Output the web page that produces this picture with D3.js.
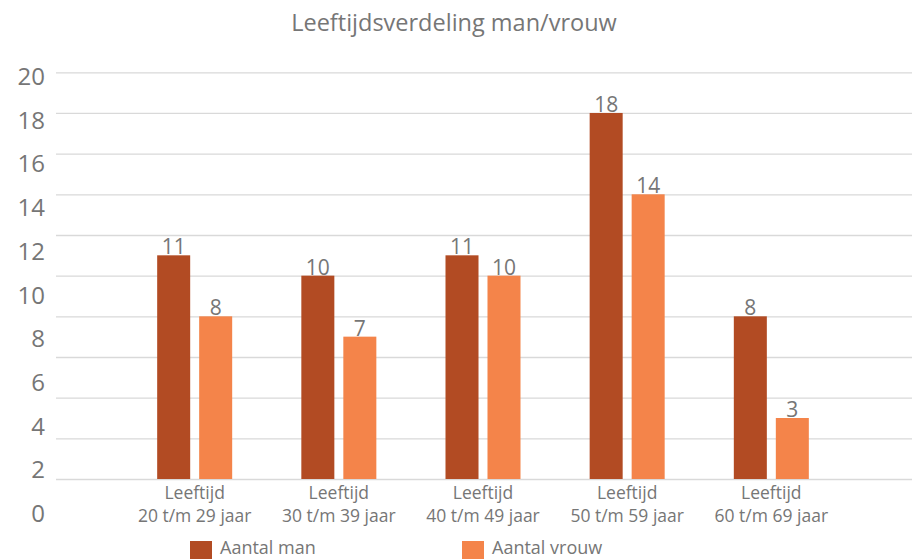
<!DOCTYPE html>
<html>
<head>
<meta charset="utf-8">
<script src="https://d3js.org/d3.v7.min.js"></script>
<style>
  body { margin: 0; background: #fff; }
  text { font-family: "Open Sans", sans-serif; fill: #767676; }
</style>
</head>
<body>
<div id="chart"></div>
<script>
    const categories = ["20 t/m 29 jaar", "30 t/m 39 jaar", "40 t/m 49 jaar", "50 t/m 59 jaar", "60 t/m 69 jaar"];
    const seriesNames = ["Aantal man", "Aantal vrouw"];
    const man = [11, 10, 11, 18, 8];
    const vrouw = [8, 7, 10, 14, 3];
    const yTicks = [0, 2, 4, 6, 8, 10, 12, 14, 16, 18, 20];
    const title = "Leeftijdsverdeling man/vrouw";

    const w = 912;
    const h = 559;
    const colors = ["#B24B23", "#F4844A"];

    const data = categories.map((c, i) => ({ cat: c, values: [man[i], vrouw[i]] }));

    const svg = d3.select("#chart").append("svg")
                  .attr("width", w)
                  .attr("height", h);

    const y = d3.scaleLinear().domain([0, 20]).range([479, 72.3]);
    // tick labels in the original sit on their own (slightly wider) spacing
    const yLab = d3.scaleLinear().domain([0, 20]).range([514, 76.7]);

    const x0 = d3.scaleBand()
                 .domain(categories)
                 .range([122.6, 843.4])
                 .paddingInner(0.4797)
                 .paddingOuter(0.2398);

    const x1 = d3.scaleBand()
                 .domain(seriesNames)
                 .range([0, x0.bandwidth()])
                 .paddingInner(0.214);

    // gridlines
    svg.append("g")
       .attr("transform", "translate(56,0)")
       .call(d3.axisLeft(y).tickValues(yTicks).tickSize(-(w - 56)).tickFormat(""))
       .call(g => g.select(".domain").remove())
       .call(g => g.selectAll("line").attr("stroke", "#D9D9D9").attr("stroke-width", 1.3));

    // y labels
    svg.append("g")
       .attr("transform", "translate(45,0)")
       .call(d3.axisLeft(yLab).tickValues(yTicks).tickSize(0).tickPadding(0))
       .call(g => g.select(".domain").remove())
       .call(g => g.selectAll("text")
                   .style("font-size", "24px")
                   .attr("fill", "#767676"));

    // bars
    const groups = svg.selectAll("g.grp")
       .data(data)
       .enter()
       .append("g")
       .attr("class", "grp")
       .attr("transform", d => "translate(" + x0(d.cat) + ",0)");

    groups.selectAll("rect")
       .data(d => d.values.map((v, i) => ({ s: seriesNames[i], v: v, i: i })))
       .enter()
       .append("rect")
       .attr("x", d => x1(d.s))
       .attr("y", d => y(d.v))
       .attr("width", x1.bandwidth())
       .attr("height", d => y(0) - y(d.v))
       .attr("fill", d => colors[d.i]);

    groups.selectAll("text.val")
       .data(d => d.values.map((v, i) => ({ s: seriesNames[i], v: v })))
       .enter()
       .append("text")
       .attr("class", "val")
       .attr("x", d => x1(d.s) + x1.bandwidth() / 2)
       .attr("y", d => y(d.v) - 1)
       .attr("text-anchor", "middle")
       .style("font-size", "21px")
       .text(d => d.v);

    // category labels, two lines each
    const catX = d => x0(d) + x0.bandwidth() / 2;
    const catG = svg.append("g");
    catG.selectAll("text.l1")
       .data(categories)
       .enter()
       .append("text")
       .attr("class", "l1")
       .attr("x", catX)
       .attr("y", 498.5)
       .attr("text-anchor", "middle")
       .style("font-size", "17.5px")
       .text("Leeftijd");
    catG.selectAll("text.l2")
       .data(categories)
       .enter()
       .append("text")
       .attr("class", "l2")
       .attr("x", catX)
       .attr("y", 521.5)
       .attr("text-anchor", "middle")
       .style("font-size", "17.5px")
       .text(d => d);

    // title
    svg.append("text")
       .attr("x", 454)
       .attr("y", 31)
       .attr("text-anchor", "middle")
       .style("font-size", "23.5px")
       .text(title);

    // legend
    const legendX = [190, 462];
    const leg = svg.selectAll("g.leg")
       .data(seriesNames)
       .enter()
       .append("g")
       .attr("class", "leg")
       .attr("transform", (d, i) => "translate(" + legendX[i] + ",541)");
    leg.append("rect")
       .attr("width", 22)
       .attr("height", 18)
       .attr("fill", (d, i) => colors[i]);
    leg.append("text")
       .attr("x", 30)
       .attr("y", 13)
       .style("font-size", "18px")
       .text(d => d);
</script>
</body>
</html>
